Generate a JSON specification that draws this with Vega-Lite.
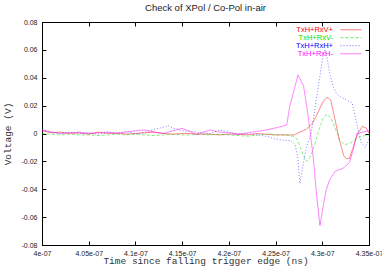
{
"$schema": "https://vega.github.io/schema/vega-lite/v6.json",
"width": 327, "height": 223,
"autosize": {"type": "none"},
"padding": {"left": 42, "top": 22, "right": 13, "bottom": 22},
"background": "white",
"title": {"text": "Check of XPol / Co-Pol in-air", "font": "Liberation Sans", "fontSize": 9.5, "fontWeight": "normal", "color": "#222", "offset": 6},
"config": {
  "view": {"stroke": "black", "strokeWidth": 1},
  "axis": {"grid": false, "domainColor": "black", "tickColor": "black", "labelColor": "#222", "labelFont": "Liberation Sans", "labelFontSize": 7, "titleFont": "Liberation Mono", "titleFontWeight": "normal", "titleFontSize": 9.5, "titleColor": "#333", "tickSize": -4}
},
"data": {"values": [
{"s":"TxH+RxV+","t":4.00,"v":0.002},{"s":"TxH+RxV+","t":4.01,"v":0.0005},{"s":"TxH+RxV+","t":4.02,"v":0.001},{"s":"TxH+RxV+","t":4.03,"v":0},{"s":"TxH+RxV+","t":4.04,"v":0.0005},{"s":"TxH+RxV+","t":4.05,"v":-0.0005},{"s":"TxH+RxV+","t":4.06,"v":0.001},{"s":"TxH+RxV+","t":4.07,"v":0},{"s":"TxH+RxV+","t":4.08,"v":0.0005},{"s":"TxH+RxV+","t":4.09,"v":-0.0005},{"s":"TxH+RxV+","t":4.10,"v":0},{"s":"TxH+RxV+","t":4.11,"v":0.0005},{"s":"TxH+RxV+","t":4.12,"v":0.001},{"s":"TxH+RxV+","t":4.13,"v":0},{"s":"TxH+RxV+","t":4.14,"v":-0.0005},{"s":"TxH+RxV+","t":4.15,"v":0},{"s":"TxH+RxV+","t":4.16,"v":0},{"s":"TxH+RxV+","t":4.17,"v":-0.0005},{"s":"TxH+RxV+","t":4.18,"v":-0.0005},{"s":"TxH+RxV+","t":4.19,"v":-0.001},{"s":"TxH+RxV+","t":4.20,"v":-0.0005},{"s":"TxH+RxV+","t":4.21,"v":-0.0005},{"s":"TxH+RxV+","t":4.22,"v":-0.001},{"s":"TxH+RxV+","t":4.23,"v":0},{"s":"TxH+RxV+","t":4.24,"v":-0.0005},{"s":"TxH+RxV+","t":4.25,"v":-0.001},{"s":"TxH+RxV+","t":4.26,"v":-0.001},{"s":"TxH+RxV+","t":4.27,"v":-0.001},{"s":"TxH+RxV+","t":4.276,"v":0.001},{"s":"TxH+RxV+","t":4.283,"v":0.003},{"s":"TxH+RxV+","t":4.289,"v":0.007},{"s":"TxH+RxV+","t":4.294,"v":0.013},{"s":"TxH+RxV+","t":4.298,"v":0.019},{"s":"TxH+RxV+","t":4.301,"v":0.023},{"s":"TxH+RxV+","t":4.305,"v":0.026},{"s":"TxH+RxV+","t":4.309,"v":0.024},{"s":"TxH+RxV+","t":4.313,"v":0.012},{"s":"TxH+RxV+","t":4.318,"v":-0.004},{"s":"TxH+RxV+","t":4.323,"v":-0.016},{"s":"TxH+RxV+","t":4.326,"v":-0.018},{"s":"TxH+RxV+","t":4.329,"v":-0.018},{"s":"TxH+RxV+","t":4.333,"v":-0.01},{"s":"TxH+RxV+","t":4.338,"v":0},{"s":"TxH+RxV+","t":4.343,"v":0.005},{"s":"TxH+RxV+","t":4.347,"v":0.004},{"s":"TxH+RxV+","t":4.35,"v":0},
{"s":"TxH+RxV-","t":4.00,"v":0},{"s":"TxH+RxV-","t":4.01,"v":-0.0005},{"s":"TxH+RxV-","t":4.02,"v":-0.001},{"s":"TxH+RxV-","t":4.03,"v":-0.0005},{"s":"TxH+RxV-","t":4.04,"v":-0.001},{"s":"TxH+RxV-","t":4.05,"v":-0.001},{"s":"TxH+RxV-","t":4.06,"v":-0.0015},{"s":"TxH+RxV-","t":4.07,"v":-0.001},{"s":"TxH+RxV-","t":4.08,"v":-0.0005},{"s":"TxH+RxV-","t":4.09,"v":-0.001},{"s":"TxH+RxV-","t":4.10,"v":-0.0005},{"s":"TxH+RxV-","t":4.11,"v":-0.001},{"s":"TxH+RxV-","t":4.12,"v":-0.0015},{"s":"TxH+RxV-","t":4.13,"v":-0.001},{"s":"TxH+RxV-","t":4.14,"v":-0.0005},{"s":"TxH+RxV-","t":4.15,"v":-0.001},{"s":"TxH+RxV-","t":4.16,"v":-0.001},{"s":"TxH+RxV-","t":4.17,"v":-0.0005},{"s":"TxH+RxV-","t":4.18,"v":-0.001},{"s":"TxH+RxV-","t":4.19,"v":-0.0005},{"s":"TxH+RxV-","t":4.20,"v":-0.001},{"s":"TxH+RxV-","t":4.21,"v":-0.0015},{"s":"TxH+RxV-","t":4.22,"v":-0.002},{"s":"TxH+RxV-","t":4.23,"v":-0.001},{"s":"TxH+RxV-","t":4.24,"v":-0.0005},{"s":"TxH+RxV-","t":4.25,"v":-0.001},{"s":"TxH+RxV-","t":4.26,"v":-0.001},{"s":"TxH+RxV-","t":4.269,"v":-0.002},{"s":"TxH+RxV-","t":4.273,"v":-0.004},{"s":"TxH+RxV-","t":4.276,"v":-0.009},{"s":"TxH+RxV-","t":4.28,"v":-0.016},{"s":"TxH+RxV-","t":4.283,"v":-0.02},{"s":"TxH+RxV-","t":4.286,"v":-0.018},{"s":"TxH+RxV-","t":4.29,"v":-0.012},{"s":"TxH+RxV-","t":4.294,"v":-0.003},{"s":"TxH+RxV-","t":4.2975,"v":0.005},{"s":"TxH+RxV-","t":4.301,"v":0.011},{"s":"TxH+RxV-","t":4.305,"v":0.014},{"s":"TxH+RxV-","t":4.309,"v":0.011},{"s":"TxH+RxV-","t":4.312,"v":0.007},{"s":"TxH+RxV-","t":4.316,"v":0},{"s":"TxH+RxV-","t":4.319,"v":-0.005},{"s":"TxH+RxV-","t":4.324,"v":-0.008},{"s":"TxH+RxV-","t":4.33,"v":-0.007},{"s":"TxH+RxV-","t":4.336,"v":-0.004},{"s":"TxH+RxV-","t":4.342,"v":-0.002},{"s":"TxH+RxV-","t":4.35,"v":-0.001},
{"s":"TxH+RxH+","t":4.00,"v":0.003},{"s":"TxH+RxH+","t":4.01,"v":0.001},{"s":"TxH+RxH+","t":4.02,"v":0},{"s":"TxH+RxH+","t":4.03,"v":0.001},{"s":"TxH+RxH+","t":4.04,"v":0},{"s":"TxH+RxH+","t":4.05,"v":0.0005},{"s":"TxH+RxH+","t":4.06,"v":-0.0005},{"s":"TxH+RxH+","t":4.07,"v":0.001},{"s":"TxH+RxH+","t":4.08,"v":0},{"s":"TxH+RxH+","t":4.09,"v":0.0015},{"s":"TxH+RxH+","t":4.10,"v":0},{"s":"TxH+RxH+","t":4.11,"v":0.001},{"s":"TxH+RxH+","t":4.12,"v":0.003},{"s":"TxH+RxH+","t":4.13,"v":0.0045},{"s":"TxH+RxH+","t":4.135,"v":0.0055},{"s":"TxH+RxH+","t":4.14,"v":0.004},{"s":"TxH+RxH+","t":4.15,"v":0.002},{"s":"TxH+RxH+","t":4.16,"v":0.0015},{"s":"TxH+RxH+","t":4.17,"v":0.0005},{"s":"TxH+RxH+","t":4.18,"v":0},{"s":"TxH+RxH+","t":4.19,"v":0.0025},{"s":"TxH+RxH+","t":4.20,"v":0.001},{"s":"TxH+RxH+","t":4.21,"v":-0.0005},{"s":"TxH+RxH+","t":4.22,"v":0},{"s":"TxH+RxH+","t":4.23,"v":-0.001},{"s":"TxH+RxH+","t":4.24,"v":-0.002},{"s":"TxH+RxH+","t":4.25,"v":-0.004},{"s":"TxH+RxH+","t":4.26,"v":-0.005},{"s":"TxH+RxH+","t":4.266,"v":-0.005},{"s":"TxH+RxH+","t":4.271,"v":-0.008},{"s":"TxH+RxH+","t":4.274,"v":-0.018},{"s":"TxH+RxH+","t":4.276,"v":-0.036},{"s":"TxH+RxH+","t":4.279,"v":-0.024},{"s":"TxH+RxH+","t":4.283,"v":-0.01},{"s":"TxH+RxH+","t":4.288,"v":0},{"s":"TxH+RxH+","t":4.295,"v":0.03},{"s":"TxH+RxH+","t":4.301,"v":0.057},{"s":"TxH+RxH+","t":4.303,"v":0.06},{"s":"TxH+RxH+","t":4.305,"v":0.055},{"s":"TxH+RxH+","t":4.308,"v":0.043},{"s":"TxH+RxH+","t":4.312,"v":0.033},{"s":"TxH+RxH+","t":4.315,"v":0.029},{"s":"TxH+RxH+","t":4.32,"v":0.026},{"s":"TxH+RxH+","t":4.326,"v":0.024},{"s":"TxH+RxH+","t":4.332,"v":0.022},{"s":"TxH+RxH+","t":4.336,"v":0.01},{"s":"TxH+RxH+","t":4.339,"v":0},{"s":"TxH+RxH+","t":4.342,"v":-0.007},{"s":"TxH+RxH+","t":4.346,"v":-0.01},{"s":"TxH+RxH+","t":4.35,"v":-0.004},
{"s":"TxH+RxH-","t":4.00,"v":0.0025},{"s":"TxH+RxH-","t":4.01,"v":0.001},{"s":"TxH+RxH-","t":4.02,"v":0},{"s":"TxH+RxH-","t":4.03,"v":0.0005},{"s":"TxH+RxH-","t":4.04,"v":0.001},{"s":"TxH+RxH-","t":4.05,"v":0},{"s":"TxH+RxH-","t":4.06,"v":0.0005},{"s":"TxH+RxH-","t":4.07,"v":0.001},{"s":"TxH+RxH-","t":4.08,"v":0},{"s":"TxH+RxH-","t":4.09,"v":0.001},{"s":"TxH+RxH-","t":4.10,"v":0.002},{"s":"TxH+RxH-","t":4.11,"v":0.0025},{"s":"TxH+RxH-","t":4.12,"v":0.001},{"s":"TxH+RxH-","t":4.13,"v":0},{"s":"TxH+RxH-","t":4.14,"v":0.002},{"s":"TxH+RxH-","t":4.15,"v":0.0037},{"s":"TxH+RxH-","t":4.16,"v":0.001},{"s":"TxH+RxH-","t":4.165,"v":-0.001},{"s":"TxH+RxH-","t":4.17,"v":0.0005},{"s":"TxH+RxH-","t":4.18,"v":0.0025},{"s":"TxH+RxH-","t":4.19,"v":0.001},{"s":"TxH+RxH-","t":4.20,"v":0.0005},{"s":"TxH+RxH-","t":4.21,"v":-0.0005},{"s":"TxH+RxH-","t":4.22,"v":0.0005},{"s":"TxH+RxH-","t":4.23,"v":0.0015},{"s":"TxH+RxH-","t":4.24,"v":0.0025},{"s":"TxH+RxH-","t":4.25,"v":0.004},{"s":"TxH+RxH-","t":4.262,"v":0.006},{"s":"TxH+RxH-","t":4.265,"v":0.019},{"s":"TxH+RxH-","t":4.274,"v":0.042},{"s":"TxH+RxH-","t":4.28,"v":0.034},{"s":"TxH+RxH-","t":4.285,"v":0.012},{"s":"TxH+RxH-","t":4.29,"v":-0.015},{"s":"TxH+RxH-","t":4.294,"v":-0.045},{"s":"TxH+RxH-","t":4.2975,"v":-0.066},{"s":"TxH+RxH-","t":4.301,"v":-0.052},{"s":"TxH+RxH-","t":4.304,"v":-0.041},{"s":"TxH+RxH-","t":4.308,"v":-0.033},{"s":"TxH+RxH-","t":4.314,"v":-0.027},{"s":"TxH+RxH-","t":4.322,"v":-0.025},{"s":"TxH+RxH-","t":4.329,"v":-0.021},{"s":"TxH+RxH-","t":4.333,"v":-0.012},{"s":"TxH+RxH-","t":4.337,"v":0},{"s":"TxH+RxH-","t":4.35,"v":0.002}
]},
"layer": [
{
  "mark": {"type": "line", "strokeWidth": 1, "opacity": 0.5, "clip": true},
  "encoding": {
    "x": {"field": "t", "type": "quantitative", "scale": {"domain": [4, 4.35], "nice": false, "zero": false},
      "axis": {"orient": "bottom", "values": [4, 4.05, 4.1, 4.15, 4.2, 4.25, 4.3, 4.35], "labelExpr": "format(datum.value, '.3~g') + 'e-07'", "title": "Time since falling trigger edge (ns)", "titlePadding": -1, "labelPadding": 8, "labelFlush": false}},
    "y": {"field": "v", "type": "quantitative", "scale": {"domain": [-0.08, 0.08], "nice": false},
      "axis": {"orient": "left", "values": [-0.08, -0.06, -0.04, -0.02, 0, 0.02, 0.04, 0.06, 0.08], "labelExpr": "replace(format(datum.value, '~g'), '\u2212', '-')", "title": "Voltage (V)", "titlePadding": 9, "labelPadding": 9}},
    "color": {"field": "s", "type": "nominal", "sort": ["TxH+RxV+", "TxH+RxV-", "TxH+RxH+", "TxH+RxH-"],
      "scale": {"domain": ["TxH+RxV+", "TxH+RxV-", "TxH+RxH+", "TxH+RxH-"], "range": ["#ff0000", "#00e000", "#0000ff", "#ff00ff"]},
      "legend": {"title": null, "orient": "none", "legendX": 298, "legendY": 4.5, "padding": 0, "symbolType": "M-3,0H3", "symbolSize": 49, "symbolOffset": 7, "symbolStrokeWidth": 1, "symbolOpacity": 0.6, "labelAlign": "right", "labelOffset": -22, "labelFont": "Liberation Sans", "labelFontSize": 7.5, "rowPadding": 0, "clipHeight": 6.5,
        "encode": {"labels": {"update": {"fill": {"scale": "color", "field": "value"}}}, "entries": {"update": {"width": {"value": 23}}}}}},
    "strokeDash": {"field": "s", "type": "nominal", "sort": ["TxH+RxV+", "TxH+RxV-", "TxH+RxH+", "TxH+RxH-"],
      "scale": {"domain": ["TxH+RxV+", "TxH+RxV-", "TxH+RxH+", "TxH+RxH-"], "range": [[1, 0], [3, 2], [1, 2], [1, 0]]}, "legend": null},
    "order": {"field": "t", "type": "quantitative"}
  }
},
{
  "mark": {"type": "line", "opacity": 0},
  "encoding": {
    "x": {"field": "t", "type": "quantitative", "axis": {"orient": "top", "values": [4, 4.05, 4.1, 4.15, 4.2, 4.25, 4.3, 4.35], "labels": false, "title": null, "domain": false}},
    "y": {"field": "v", "type": "quantitative", "axis": {"orient": "right", "values": [-0.08, -0.06, -0.04, -0.02, 0, 0.02, 0.04, 0.06, 0.08], "labels": false, "title": null, "domain": false}},
    "detail": {"field": "s"}
  }
}
]
}
